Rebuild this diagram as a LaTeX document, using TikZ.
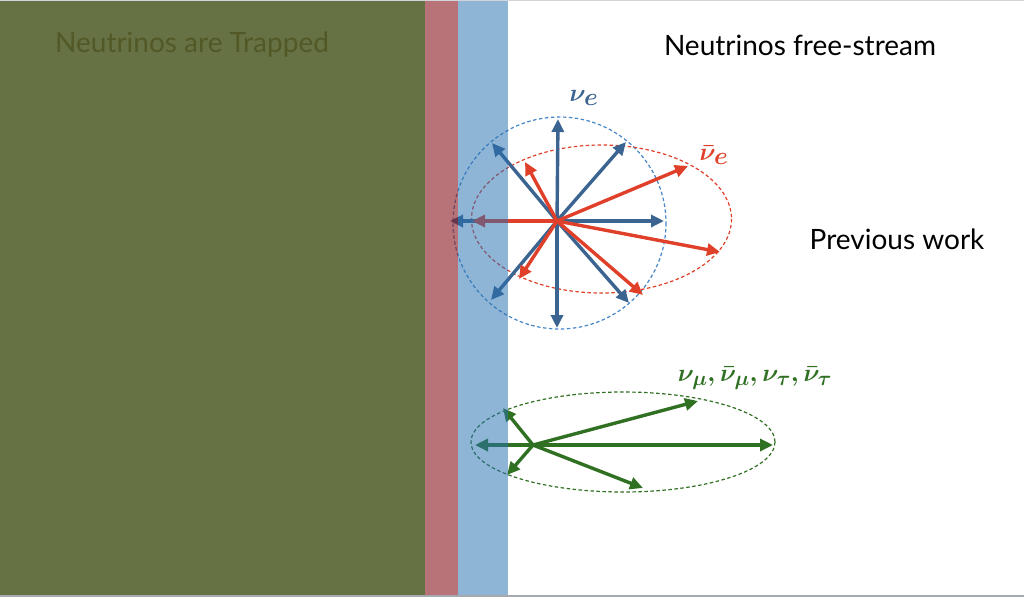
\documentclass[tikz,border=0pt]{standalone}
\usepackage{fontspec}
\setmainfont{Lato}
\usetikzlibrary{arrows.meta}
\definecolor{olive}{RGB}{103,114,68}
\definecolor{olivetext}{RGB}{82,88,38}
\definecolor{bandred}{RGB}{135,23,30}
\definecolor{bandblue}{RGB}{40,113,177}
\definecolor{nublue}{RGB}{59,100,145}
\definecolor{nured}{RGB}{224,64,42}
\definecolor{nugreen}{RGB}{48,112,34}
\definecolor{circblue}{RGB}{70,135,200}
\definecolor{edgegray}{RGB}{165,170,175}
\tikzset{
  vec/.style={line width=3.4pt,-{Triangle[length=13pt,width=12pt]}},
  bluevec/.style={vec,draw=nublue,fill=nublue},
  redvec/.style={vec,draw=nured,fill=nured},
  greenvec/.style={vec,draw=nugreen,fill=nugreen},
  distrib/.style={line width=1.2pt,dash pattern=on 3.5pt off 2.5pt},
  heading/.style={font=\fontsize{28}{32}\selectfont,inner sep=0pt},
  nulabel/.style={inner sep=0pt}
}
\begin{document}
\begin{tikzpicture}[x=1pt,y=-1pt]
\useasboundingbox (0,0) rectangle (1024,597);
\fill[white] (0,0) rectangle (1024,597);
\fill[olive] (0,0) rectangle (425,597);
\node[heading,text=olivetext] (trapped) at (192,45) {Neutrinos are Trapped};
\node[heading,text=black] (free) at (800,45) {Neutrinos free-stream};
\node[heading,text=black] (prev) at (897,239) {Previous work};

% electron neutrino distributions
\coordinate (c) at (557,221);
\draw[distrib,draw=circblue] (559.5,223) ellipse (106.5 and 106);
\draw[distrib,draw=nured] (601.5,219) ellipse (130 and 74);
\coordinate (bu) at (558,119);
\coordinate (bd) at (557,328);
\coordinate (br) at (664,221);
\coordinate (bl) at (450,221);
\coordinate (bul) at (492,143);
\coordinate (bur) at (626,142);
\coordinate (bdl) at (491,300);
\coordinate (bdr) at (629,303);
\draw[bluevec] (c) -- (bu);
\draw[bluevec] (c) -- (bd);
\draw[bluevec] (c) -- (br);
\draw[bluevec] (c) -- (bl);
\draw[bluevec] (c) -- (bul);
\draw[bluevec] (c) -- (bur);
\draw[bluevec] (c) -- (bdl);
\draw[bluevec] (c) -- (bdr);
\coordinate (rul) at (525,162);
\coordinate (rur) at (688,166);
\coordinate (rr) at (720,252);
\coordinate (rdr) at (643,295);
\coordinate (rdl) at (519,279);
\coordinate (rl) at (472,221);
\draw[redvec] (c) -- (rul);
\draw[redvec] (c) -- (rur);
\draw[redvec] (c) -- (rr);
\draw[redvec] (c) -- (rdr);
\draw[redvec] (c) -- (rdl);
\draw[redvec] (c) -- (rl);
\node[nulabel,text=nublue,font=\fontsize{33}{34}\selectfont\boldmath] (nue) at (584,98) {$\nu_e$};
\node[nulabel,text=nured,font=\fontsize{33}{34}\selectfont\boldmath] (nuebar) at (714,155) {$\bar\nu_e$};

% heavy-lepton neutrino distribution
\coordinate (g) at (533,445);
\draw[distrib,draw=nugreen] (623,442) ellipse (152 and 50);
\coordinate (gr) at (773,445);
\coordinate (gl) at (475,445);
\coordinate (gur) at (698,401);
\coordinate (gul) at (503,408);
\coordinate (gdl) at (507,475);
\coordinate (gdr) at (643,488);
\draw[greenvec] (g) -- (gr);
\draw[greenvec] (g) -- (gl);
\draw[greenvec] (g) -- (gur);
\draw[greenvec] (g) -- (gul);
\draw[greenvec] (g) -- (gdl);
\draw[greenvec] (g) -- (gdr);
\node[nulabel,text=nugreen,font=\fontsize{30}{32}\selectfont\boldmath] (numu) at (755,378)
  {$\nu_\mu,\bar\nu_\mu,\nu_\tau,\bar\nu_\tau$};

% semi-transparent bands
\fill[bandred,opacity=0.6] (425,0) rectangle (458,597);
\fill[bandblue,opacity=0.52] (458,0) rectangle (508,597);

\draw[edgegray,line width=2pt] (0,596) -- (1024,596);
\draw[edgegray!50,line width=1pt] (0,0.5) -- (1024,0.5);
\end{tikzpicture}
\end{document}
